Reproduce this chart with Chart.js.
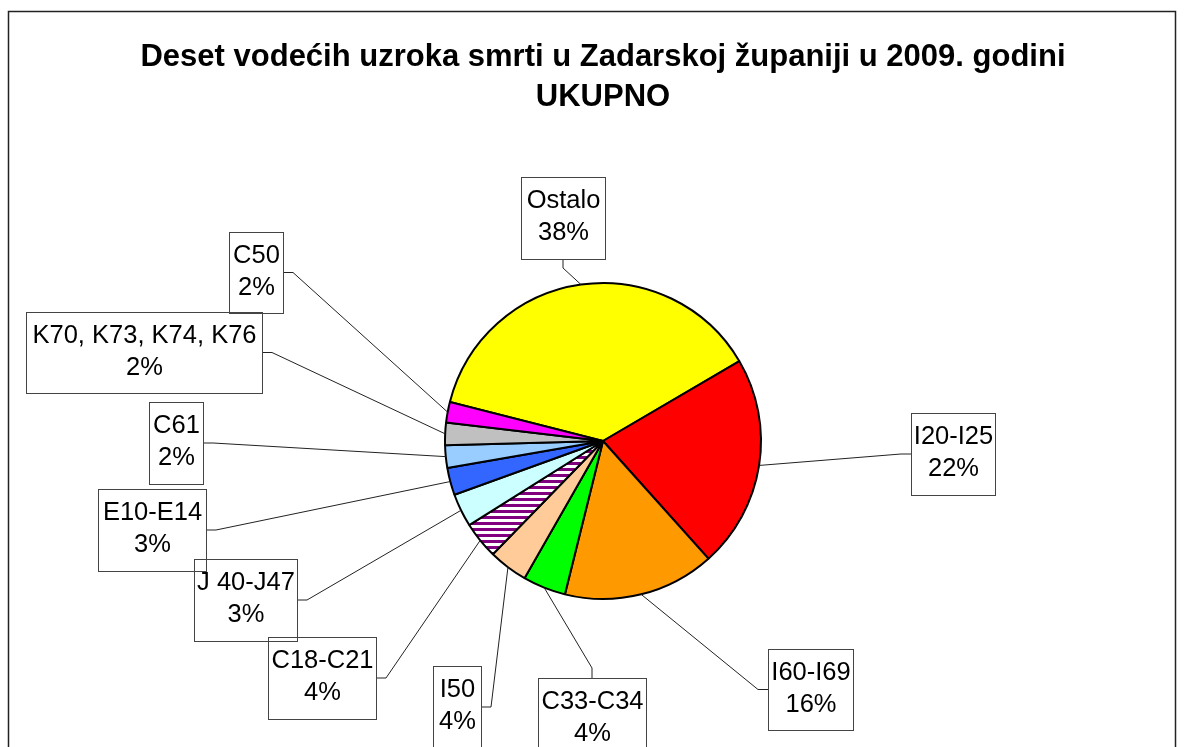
<!DOCTYPE html>
<html>
<head>
<meta charset="utf-8">
<script src="https://cdn.jsdelivr.net/npm/chart.js@4/dist/chart.umd.min.js"></script>
<style>
  body { margin: 0; background: #fff; }
</style>
</head>
<body>
<canvas id="myChart" width="1184" height="747"></canvas>
<script>
// podaci (procijenjeno sa slike)
const categories = ["Ostalo", "I20-I25", "I60-I69", "C33-C34", "I50", "C18-C21", "J 40-J47", "E10-E14", "C61", "K70, K73, K74, K76", "C50"];
const values = [37.6, 21.8, 15.5, 4.4, 4.0, 3.8, 3.4, 2.8, 2.3, 2.3, 2.1];
const percentLabels = ["38%", "22%", "16%", "4%", "4%", "4%", "3%", "3%", "2%", "2%", "2%"];

const titleLines = ["Deset vodećih uzroka smrti u Zadarskoj županiji u 2009. godini", "UKUPNO"];

const canvas = document.getElementById("myChart");
const ctx = canvas.getContext("2d");

// prugasti uzorak za C18-C21
function stripePattern() {
    const c = document.createElement("canvas");
    c.width = 6; c.height = 6;
    const g = c.getContext("2d");
    g.fillStyle = "#ffffff";
    g.fillRect(0, 0, 6, 6);
    g.fillStyle = "#800080";
    g.fillRect(0, 0, 6, 3);
    return ctx.createPattern(c, "repeat");
}

const colors = ["#ffff00", "#ff0000", "#ff9900", "#00ff00", "#ffcc99", stripePattern(),
                "#ccffff", "#3366ff", "#99ccff", "#c0c0c0", "#ff00ff"];

// položaj okvira s oznakama (x, y, širina, visina, strana spojnice)
const boxes = [
    { x: 521, y: 177, w: 84,  h: 82, side: "bottom" },
    { x: 911, y: 413, w: 84,  h: 82, side: "left" },
    { x: 768, y: 649, w: 85,  h: 81, side: "left" },
    { x: 538, y: 678, w: 108, h: 82, side: "top" },
    { x: 433, y: 666, w: 48,  h: 82, side: "right" },
    { x: 268, y: 637, w: 108, h: 82, side: "right" },
    { x: 194, y: 559, w: 103, h: 82, side: "right" },
    { x: 98,  y: 489, w: 108, h: 82, side: "right" },
    { x: 149, y: 402, w: 54,  h: 82, side: "right" },
    { x: 26,  y: 312, w: 236, h: 81, side: "right" },
    { x: 229, y: 232, w: 54,  h: 81, side: "right" }
];

const labelPlugin = {
    id: "labelBoxes",
    afterDraw(chart) {
        const c = chart.ctx;
        c.save();

        // okvir grafikona
        c.strokeStyle = "#222";
        c.lineWidth = 1.5;
        c.strokeRect(8.5, 11.5, 1167, 800);

        const arcs = chart.getDatasetMeta(0).data;
        c.font = "25.5px 'Liberation Sans', Arial, sans-serif";
        c.textAlign = "center";
        c.textBaseline = "middle";

        boxes.forEach((b, i) => {
            const a = arcs[i].getProps(["x", "y", "startAngle", "endAngle", "outerRadius"], true);
            const mid = (a.startAngle + a.endAngle) / 2;
            const px = a.x + Math.cos(mid) * a.outerRadius;
            const py = a.y + Math.sin(mid) * a.outerRadius;

            let sx, sy, ex, ey;
            if (b.side === "right") { sx = b.x + b.w; sy = b.y + b.h / 2; ex = sx + 10; ey = sy; }
            else if (b.side === "left") { sx = b.x; sy = b.y + b.h / 2; ex = sx - 10; ey = sy; }
            else if (b.side === "bottom") { sx = b.x + b.w / 2; sy = b.y + b.h; ex = sx; ey = sy + 9; }
            else { sx = b.x + b.w / 2; sy = b.y; ex = sx; ey = sy - 10; }

            c.strokeStyle = "#222";
            c.lineWidth = 1;
            c.beginPath();
            c.moveTo(sx, sy);
            c.lineTo(ex, ey);
            c.lineTo(px, py);
            c.stroke();

            c.strokeStyle = "#444";
            c.strokeRect(b.x + 0.5, b.y + 0.5, b.w, b.h);

            c.fillStyle = "#000";
            c.fillText(categories[i], b.x + b.w / 2 + 0.5, b.y + 24);
            c.fillText(percentLabels[i], b.x + b.w / 2 + 0.5, b.y + 56);
        });
        c.restore();
    }
};

const chart = new Chart(canvas, {
    type: "pie",
    data: {
        labels: categories,
        datasets: [{
            data: values,
            backgroundColor: colors,
            borderColor: "#000",
            borderWidth: 2,
            hoverOffset: 0
        }]
    },
    options: {
        responsive: false,
        animation: false,
        rotation: -75.7,
        layout: { padding: { left: 22, right: 0, top: 0, bottom: 147 } },
        plugins: {
            legend: { display: false },
            tooltip: { enabled: false },
            title: {
                display: true,
                text: titleLines,
                color: "#000",
                font: { family: "'Liberation Sans', Arial, sans-serif", size: 31, weight: "bold", lineHeight: 1.3 },
                padding: { top: 37, bottom: 164.4 }
            }
        }
    },
    plugins: [labelPlugin]
});
</script>
</body>
</html>
